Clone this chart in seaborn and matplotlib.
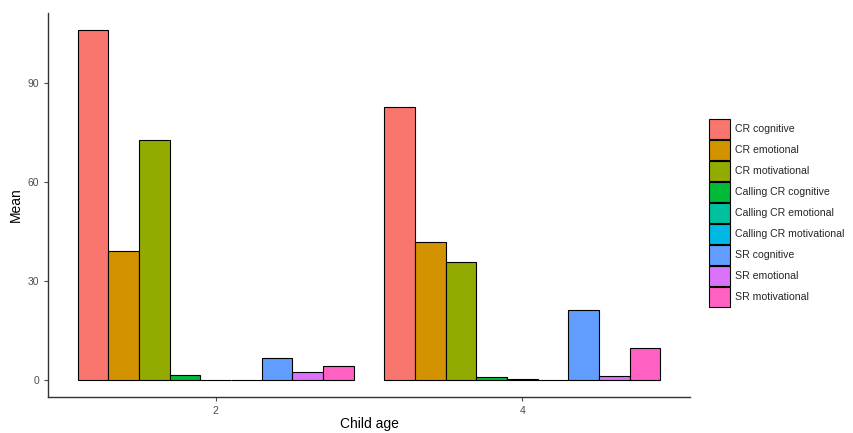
"""
Mean counts by child age and category (grouped bar chart).
"""
import pandas as pd
import numpy as np
import matplotlib
matplotlib.use('Agg')
import matplotlib.pyplot as plt
import seaborn as sns
from matplotlib.patches import Patch

ages = ['2', '4']
categories = ['CR cognitive', 'CR emotional', 'CR motivational',
              'Calling CR cognitive', 'Calling CR emotional', 'Calling CR motivational',
              'SR cognitive', 'SR emotional', 'SR motivational']
means_age2 = [106.0, 39.0, 72.7, 1.5, 0.0, 0.0, 6.6, 2.2, 4.2]
means_age4 = [82.7, 41.8, 35.8, 0.7, 0.3, 0.0, 21.2, 1.2, 9.7]
palette = ['#F8766D', '#D39200', '#93AA00', '#00BA38', '#00C19F',
           '#00B9E3', '#619CFF', '#DB72FB', '#FF61C3']

df = pd.DataFrame({
    'age': np.repeat(ages, len(categories)),
    'category': categories * len(ages),
    'mean': means_age2 + means_age4,
})

sns.set_style('white')
plt.rcParams['font.family'] = ['Liberation Sans', 'DejaVu Sans']

fig = plt.figure(figsize=(8.54, 4.33), dpi=100)
ax = fig.add_axes([48 / 854, 36 / 433, (690 - 48) / 854, (397 - 13) / 433])

sns.barplot(data=df, x='age', y='mean', hue='category', hue_order=categories,
            palette=palette, saturation=1, width=0.9, edgecolor='black',
            linewidth=0.8, errorbar=None, ax=ax, legend=False)

ax.set_xlim(-0.547, 1.547)
ax.set_ylim(-5.3, 111.3)
ax.set_yticks([0, 30, 60, 90])
ax.set_xlabel('Child age', fontsize=10, color='black', labelpad=1)
ax.set_ylabel('Mean', fontsize=10, color='black', labelpad=3)
ax.tick_params(axis='both', colors='#4D4D4D', labelsize=7.5, length=3,
               width=0.8, left=True, bottom=True)
ax.tick_params(axis='both', labelcolor='#4D4D4D')
for side in ['top', 'right']:
    ax.spines[side].set_visible(False)
for side in ['left', 'bottom']:
    ax.spines[side].set_color('#333333')
    ax.spines[side].set_linewidth(1.0)

handles = [Patch(facecolor=c, edgecolor='black', linewidth=0.8) for c in palette]
fig.legend(handles, categories, loc='center left', bbox_to_anchor=(700 / 854, 0.508),
           frameon=False, fontsize=7.6, handlelength=1.9, handleheight=2.5,
           labelspacing=0.12, handletextpad=0.5)

fig.savefig('out.png', dpi=100)
plt.close(fig)
